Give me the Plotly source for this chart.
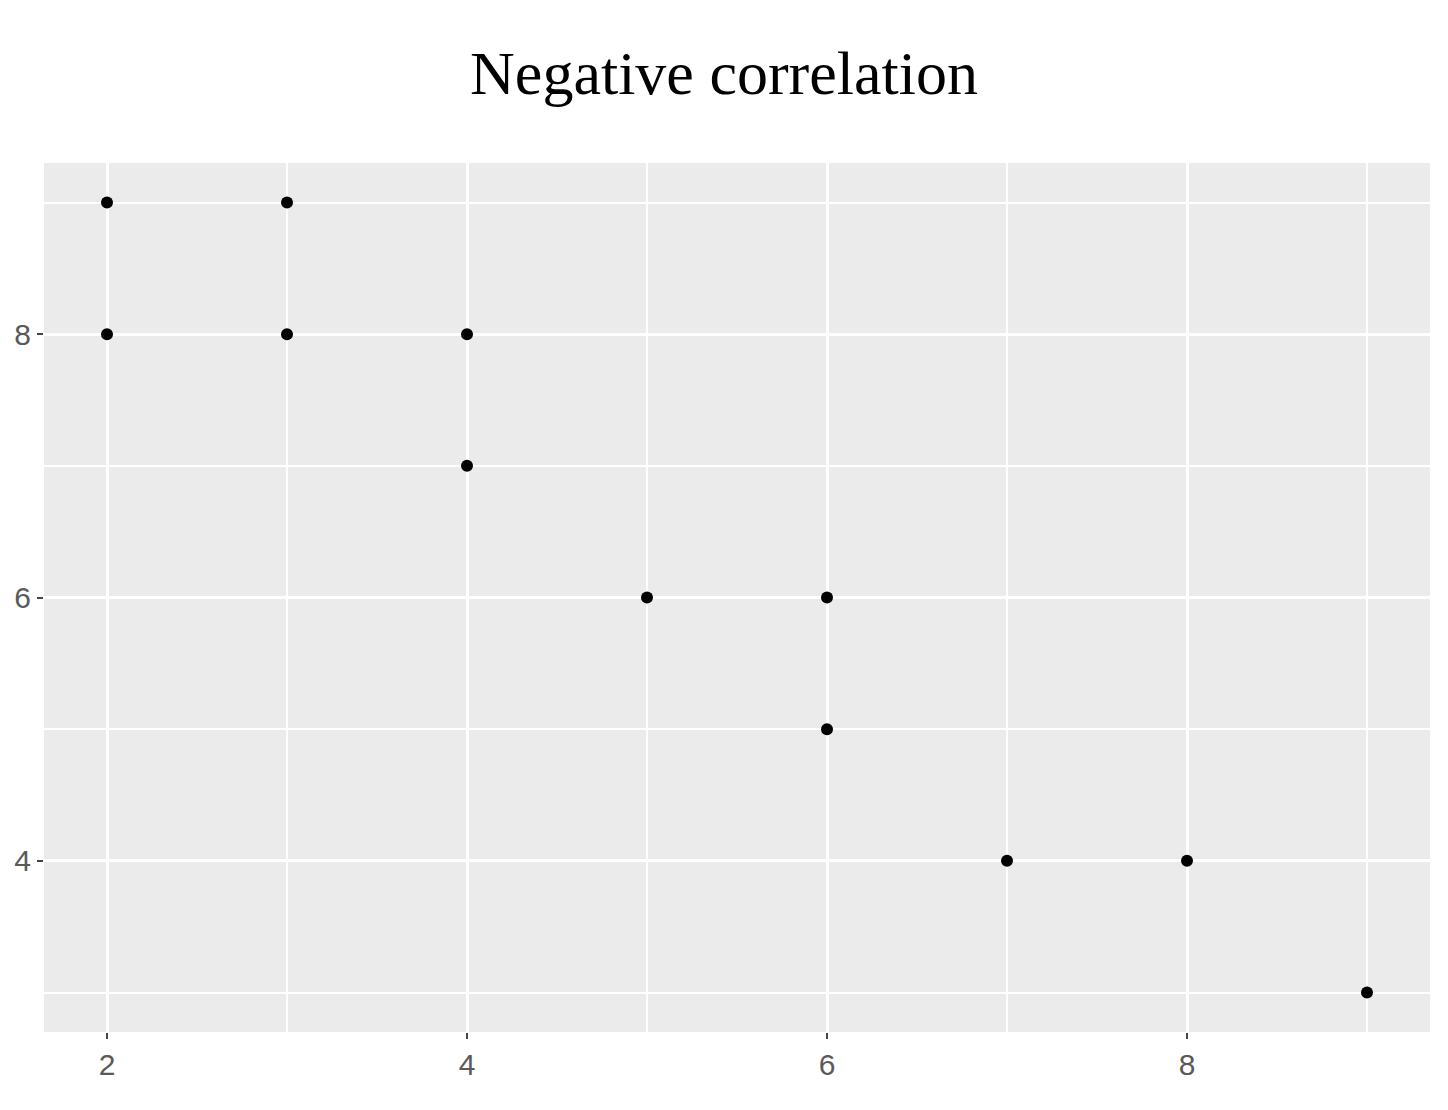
import plotly.graph_objects as go

# data
x_vals = [2, 2, 3, 3, 4, 4, 5, 6, 6, 7, 8, 9]
y_vals = [9, 8, 9, 8, 8, 7, 6, 6, 5, 4, 4, 3]
x_ticks = [2, 4, 6, 8]
y_ticks = [4, 6, 8]
x_minor = [3, 5, 7, 9]
y_minor = [3, 5, 7, 9]

panel_bg = '#EBEBEB'
tick_grey = '#5A5A5A'

fig = go.Figure()
fig.add_trace(go.Scatter(x=x_vals, y=y_vals, mode='markers',
                         marker=dict(color='black', size=12), showlegend=False))

axis_common = dict(showgrid=True, gridcolor='white', gridwidth=2.5,
                   zeroline=False, showline=False, automargin=False,
                   ticks='outside', ticklen=6, tickwidth=2, tickcolor='#444444',
                   tickfont=dict(family='Liberation Sans, Arial', size=30, color=tick_grey))

fig.update_xaxes(range=[1.65, 9.35], tickvals=x_ticks,
                 minor=dict(tickvals=x_minor, showgrid=True, gridcolor='white',
                            gridwidth=1.8, ticks=''),
                 **axis_common)
fig.update_yaxes(range=[2.7, 9.3], tickvals=y_ticks,
                 minor=dict(tickvals=y_minor, showgrid=True, gridcolor='white',
                            gridwidth=1.8, ticks=''),
                 **axis_common)

# page body adds an 8px offset, so margins are shifted to compensate
fig.update_layout(
    width=1448, height=1110,
    margin=dict(l=36, r=26, t=155, b=86),
    plot_bgcolor=panel_bg, paper_bgcolor='white',
    title=dict(text='Negative correlation', x=(724 - 8) / 1448, xanchor='center',
               y=1 - 64 / 1110, yanchor='middle', yref='container',
               font=dict(family='Liberation Serif, Times New Roman', size=62, color='black')),
)

fig.write_html("out.html")
